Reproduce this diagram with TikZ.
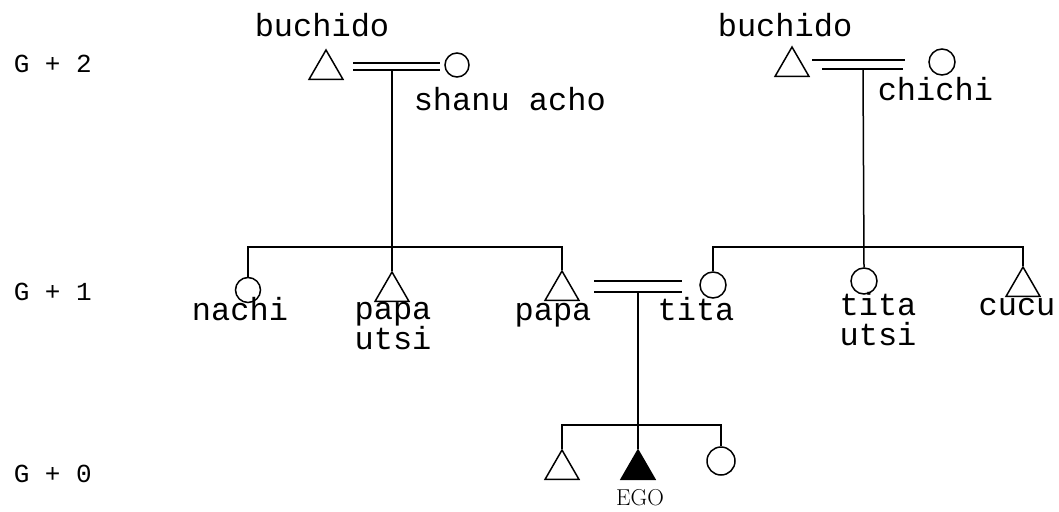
\documentclass[tikz,border=0pt]{standalone}
\usepackage{fontspec}
\setmonofont{Liberation Mono}
\usetikzlibrary{shapes.geometric,calc}
\begin{document}
\begin{tikzpicture}[x=1pt,y=-1pt,line width=1.5pt,
  lbl/.style={font=\fontsize{32}{32}\selectfont\ttfamily,inner sep=0,anchor=base},
  gen/.style={font=\fontsize{26}{26}\selectfont\ttfamily,inner sep=0,anchor=base west},
  male/.style={draw,regular polygon,regular polygon sides=3,minimum size=39pt,inner sep=0},
  female/.style={draw,circle,minimum size=25pt,inner sep=0},
  marr/.style={line width=1.5pt}]
\useasboundingbox (0,0) rectangle (1059,511);

% generation labels
\node[gen] (g2) at (13,72) {G + 2};
\node[gen] (g1) at (13,300) {G + 1};
\node[gen] (g0) at (13,482) {G + 0};

% G+2
\node[male] (gf1) at (326,69.5) {};
\node[female,minimum size=24pt] (gm1) at (457,65) {};
\node[male] (gf2) at (792,66.5) {};
\node[female,minimum size=26pt] (gm2) at (942,62) {};

\node[lbl] (lgf1) at (322,37) {buchido};
\node[lbl,anchor=base west] (lgm1) at (413,110) {shanu acho};
\node[lbl] (lgf2) at (785,37) {buchido};
\node[lbl,anchor=base west] (lgm2) at (877,100) {chichi};

% marriage lines G+2
\coordinate (m1a) at (353,63); \coordinate (m1b) at (440,63);
\coordinate (m1c) at (353,70); \coordinate (m1d) at (440,70);
\coordinate (d1) at (392,70);
\draw[marr] (m1a) -- (m1b);
\draw[marr] (m1c) -- (m1d);

\coordinate (m2a) at (812,60); \coordinate (m2b) at (905,60);
\coordinate (m2c) at (822,69); \coordinate (m2d) at (903,69);
\coordinate (d2) at (863,69);
\draw[marr] (m2a) -- (m2b);
\draw[marr] (m2c) -- (m2d);

% G+1
\node[female] (nachi) at (248,290) {};
\node[male] (pu) at (392,291.5) {};
\node[male] (papa) at (562,290.5) {};
\node[female,minimum size=26pt] (tita) at (713,285) {};
\node[female,minimum size=26pt] (titau) at (864,281) {};
\node[male] (cucu) at (1023,286.5) {};

\node[lbl] (lnachi) at (240,320) {nachi};
\node[lbl] (lpu1) at (393,319) {papa};
\node[lbl] (lpu2) at (393,349) {utsi};
\node[lbl] (lpapa) at (553,320) {papa};
\node[lbl] (ltita) at (696,320) {tita};
\node[lbl] (ltu1) at (878,315) {tita};
\node[lbl] (ltu2) at (878,345) {utsi};
\node[lbl] (lcucu) at (1017,315) {cucu};

% sibling bars G+1
\coordinate (b1) at (0,247);
\coordinate (b2) at (0,247);
\draw (d1) -- (pu.corner 1);
\draw (nachi.north) |- (papa.corner 1 |- b1) -- (papa.corner 1);
\draw (d2) -- (titau.north);
\draw (tita.north) |- (cucu.corner 1 |- b2) -- (cucu.corner 1);

% marriage G+1
\coordinate (m3a) at (594,281); \coordinate (m3b) at (682,281);
\coordinate (m3c) at (594,292); \coordinate (m3d) at (682,292);
\coordinate (d3) at (638,292);
\draw[marr] (m3a) -- (m3b);
\draw[marr] (m3c) -- (m3d);

% G+0
\node[male] (sib1) at (562,469.5) {};
\node[male,fill=black] (ego) at (638,469.5) {};
\node[female,minimum size=28pt] (sis) at (721,461) {};
\node[font=\fontsize{23}{23}\selectfont\rmfamily,inner sep=0,anchor=base] (lego) at (640,505) {EGO};

\coordinate (b3) at (0,425);
\draw (d3) -- (ego.corner 1);
\draw (sib1.corner 1) |- (sis.north |- b3) -- (sis.north);
\end{tikzpicture}
\end{document}
